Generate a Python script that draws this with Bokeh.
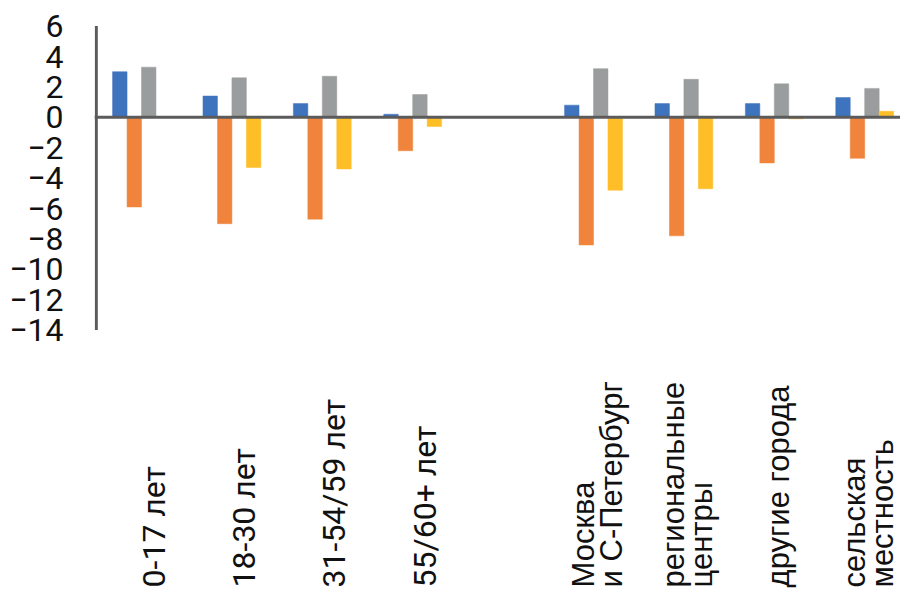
import math
from bokeh.plotting import figure
from bokeh.models import Range1d, FixedTicker, Span, ColumnDataSource
from bokeh.transform import dodge
from bokeh.core.properties import value
from bokeh.embed import file_html
from bokeh.resources import INLINE

NaN = float("nan")

age_groups = ["0-17 лет", "18-30 лет", "31-54/59 лет", "55/60+ лет"]
settlements = ["Москва\nи С-Петербург", "региональные\nцентры", "другие города", "сельская\nместность"]
categories = age_groups + [""] + settlements

series_1 = [3.0, 1.4, 0.9, 0.2, NaN, 0.8, 0.9, 0.9, 1.3]
series_2 = [-5.9, -7.0, -6.7, -2.2, NaN, -8.4, -7.8, -3.0, -2.7]
series_3 = [3.3, 2.6, 2.7, 1.5, NaN, 3.2, 2.5, 2.2, 1.9]
series_4 = [0.0, -3.3, -3.4, -0.6, NaN, -4.8, -4.7, -0.1, 0.4]

y_ticks = [6, 4, 2, 0, -2, -4, -6, -8, -10, -12, -14]

colors = ["#3E73BE", "#F0843C", "#9A9D9D", "#FEBE28"]

idx = list(range(len(categories)))
src = ColumnDataSource(dict(x=idx, s1=series_1, s2=series_2, s3=series_3, s4=series_4))

p = figure(width=900, height=588,
           x_range=Range1d(-0.52, 8.396), y_range=Range1d(-31.0, 6.5),
           output_backend="svg", toolbar_location=None,
           min_border_left=94, min_border_right=0, min_border_top=18, min_border_bottom=0)
p.outline_line_color = None
p.grid.visible = False
p.xaxis.visible = False
p.background_fill_color = "white"

yax = p.yaxis[0]
yax.ticker = FixedTicker(ticks=y_ticks)
yax.axis_line_color = None
yax.major_tick_line_color = None
yax.minor_tick_line_color = None
yax.major_tick_out = 0
yax.major_tick_in = 0
yax.major_label_standoff = 31
yax.major_label_text_font = "Roboto"
yax.major_label_text_font_size = "32px"
yax.major_label_text_color = "#111111"

bw = 0.16
for k, (col, c) in enumerate(zip(["s1", "s2", "s3", "s4"], colors)):
    p.vbar(x=dodge("x", (k - 1.5) * bw), top=col, bottom=0, width=bw, source=src,
           fill_color=c, line_color=c, line_width=0.5)

# axis line (from top tick to bottom tick)
p.segment(x0=[-0.5], y0=[y_ticks[0]], x1=[-0.5], y1=[y_ticks[-1]], line_color="#5B5B5B", line_width=3)
p.add_layout(Span(location=0, dimension="width", line_color="#5B5B5B", line_width=3))

age_src = ColumnDataSource(dict(x=idx[:4], label=age_groups))
set_src = ColumnDataSource(dict(x=idx[5:], label=settlements))
label_y = -30.93
p.text(x="x", y=label_y, text="label", source=age_src, angle=math.pi / 2,
       text_align="left", text_baseline="middle", x_offset=12,
       text_font=value("Roboto"), text_font_size="32px", text_color="#111111")
p.text(x="x", y=label_y, text="label", source=set_src, angle=math.pi / 2,
       text_align="left", text_baseline="middle", x_offset=4,
       text_font=value("Liberation Sans"), text_font_size="31px", text_color="#111111",
       text_line_height=0.8)

open("out.html", "w").write(file_html(p, INLINE))
